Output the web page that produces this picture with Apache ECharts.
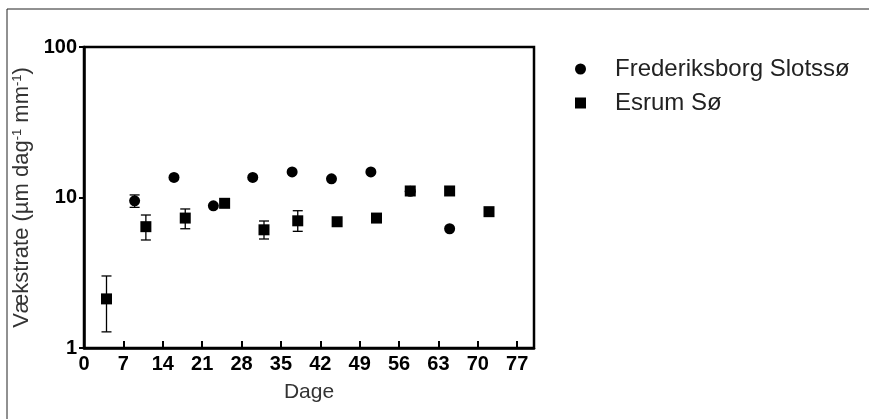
<!DOCTYPE html>
<html>
<head>
<meta charset="utf-8">
<script src="https://cdn.jsdelivr.net/npm/echarts@6/dist/echarts.min.js"></script>
<style>
  html, body { margin: 0; padding: 0; background: #fff; }
  #chart { width: 869px; height: 419px; }
</style>
</head>
<body>
<div id="chart"></div>
<script>
// Frederiksborg Slotssø (cirkler)
const fsDays = [9, 16, 23, 30, 37, 44, 51, 58, 65];
const fsRate = [9.5, 13.6, 8.8, 13.6, 14.8, 13.3, 14.8, 11.0, 6.2];
const fsLow = [8.6, null, null, null, null, null, null, null, null];
const fsHigh = [10.4, null, null, null, null, null, null, null, null];

// Esrum Sø (firkanter)
const esDays = [4, 11, 18, 25, 32, 38, 45, 52, 58, 65, 72];
const esRate = [2.12, 6.4, 7.3, 9.15, 6.1, 7.0, 6.9, 7.3, 11.05, 11.05, 8.05];
const esLow = [1.28, 5.22, 6.2, null, 5.3, 5.96, null, null, null, null, null];
const esHigh = [3.01, 7.65, 8.39, null, 6.98, 8.17, null, null, null, null, null];

const xTicks = [0, 7, 14, 21, 28, 35, 42, 49, 56, 63, 70, 77];

const points = (days, vals) => days.map((d, i) => [d, vals[i]]);
const errPoints = (days, low, high) => {
    const out = [];
    days.forEach((d, i) => {
        if (low[i] != null) out.push([d, low[i], high[i]]);
    });
    return out;
};

const renderErr = function (params, api) {
    const x = api.value(0);
    const lo = api.coord([x, api.value(1)]);
    const hi = api.coord([x, api.value(2)]);
    const cap = 5;
    const style = { stroke: '#000', lineWidth: 1.3 };
    return {
        type: 'group',
        children: [
            { type: 'line', shape: { x1: lo[0], y1: lo[1], x2: hi[0], y2: hi[1] }, style },
            { type: 'line', shape: { x1: lo[0] - cap, y1: lo[1], x2: lo[0] + cap, y2: lo[1] }, style },
            { type: 'line', shape: { x1: hi[0] - cap, y1: hi[1], x2: hi[0] + cap, y2: hi[1] }, style },
        ],
    };
};

const chart = echarts.init(document.getElementById('chart'));
chart.setOption({
    animation: false,
    grid: {
        left: 84,
        top: 47,
        right: 335,
        bottom: 71,
        show: true,
        borderColor: '#000',
        borderWidth: 2.5,
    },
    legend: {
        orient: 'vertical',
        left: 570,
        top: 52,
        itemWidth: 11,
        itemHeight: 11,
        itemGap: 10,
        textStyle: {
            fontFamily: 'Liberation Sans, Arial, sans-serif',
            fontSize: 24,
            color: '#222',
            padding: [0, 0, 0, 24],
        },
        data: ['Frederiksborg Slotssø', 'Esrum Sø'],
    },
    xAxis: {
        type: 'value',
        min: 0,
        max: 80,
        interval: 7,
        name: 'Dage',
        nameLocation: 'middle',
        nameGap: 34,
        nameTextStyle: {
            fontFamily: 'Liberation Sans, Arial, sans-serif',
            fontSize: 21,
            color: '#333',
        },
        splitLine: { show: false },
        axisLine: { lineStyle: { color: '#000', width: 2.5 } },
        axisTick: { inside: true, length: 7, lineStyle: { color: '#000', width: 2 } },
        axisLabel: {
            margin: 6,
            fontFamily: 'Liberation Sans, Arial, sans-serif',
            fontWeight: 'bold',
            fontSize: 20,
            color: '#000',
            formatter: (v) => (xTicks.includes(v) ? String(v) : ''),
        },
    },
    yAxis: {
        type: 'log',
        logBase: 10,
        min: 1,
        max: 100,
        name: 'Vækstrate (µm dag{sup|-1} mm{sup|-1})',
        nameLocation: 'middle',
        nameGap: 51,
        nameTextStyle: {
            fontFamily: 'Liberation Sans, Arial, sans-serif',
            fontSize: 22,
            color: '#333',
            rich: {
                sup: {
                    fontFamily: 'Liberation Sans, Arial, sans-serif',
                    fontSize: 13,
                    color: '#333',
                    verticalAlign: 'bottom',
                    padding: [0, 0, 9, 0],
                },
            },
        },
        splitLine: { show: false },
        minorTick: { show: false },
        axisLine: { lineStyle: { color: '#000', width: 2.5 } },
        axisTick: { inside: false, length: 5, lineStyle: { color: '#000', width: 2 } },
        axisLabel: {
            margin: 7,
            fontFamily: 'Liberation Sans, Arial, sans-serif',
            fontWeight: 'bold',
            fontSize: 20,
            color: '#000',
        },
    },
    graphic: [
        { type: 'line', shape: { x1: 7, y1: 9, x2: 869, y2: 9 }, style: { stroke: '#222', lineWidth: 1 } },
        { type: 'line', shape: { x1: 7, y1: 9, x2: 7, y2: 419 }, style: { stroke: '#222', lineWidth: 1 } },
    ],
    series: [
        {
            type: 'custom',
            renderItem: renderErr,
            data: errPoints(fsDays, fsLow, fsHigh),
            z: 1,
            silent: true,
        },
        {
            type: 'custom',
            renderItem: renderErr,
            data: errPoints(esDays, esLow, esHigh),
            z: 1,
            silent: true,
        },
        {
            name: 'Frederiksborg Slotssø',
            type: 'scatter',
            symbol: 'circle',
            symbolSize: 11,
            itemStyle: { color: '#000', opacity: 1 },
            data: points(fsDays, fsRate),
            z: 3,
        },
        {
            name: 'Esrum Sø',
            type: 'scatter',
            symbol: 'rect',
            symbolSize: 11,
            itemStyle: { color: '#000', opacity: 1 },
            data: points(esDays, esRate),
            z: 4,
        },
    ],
});
</script>
</body>
</html>
